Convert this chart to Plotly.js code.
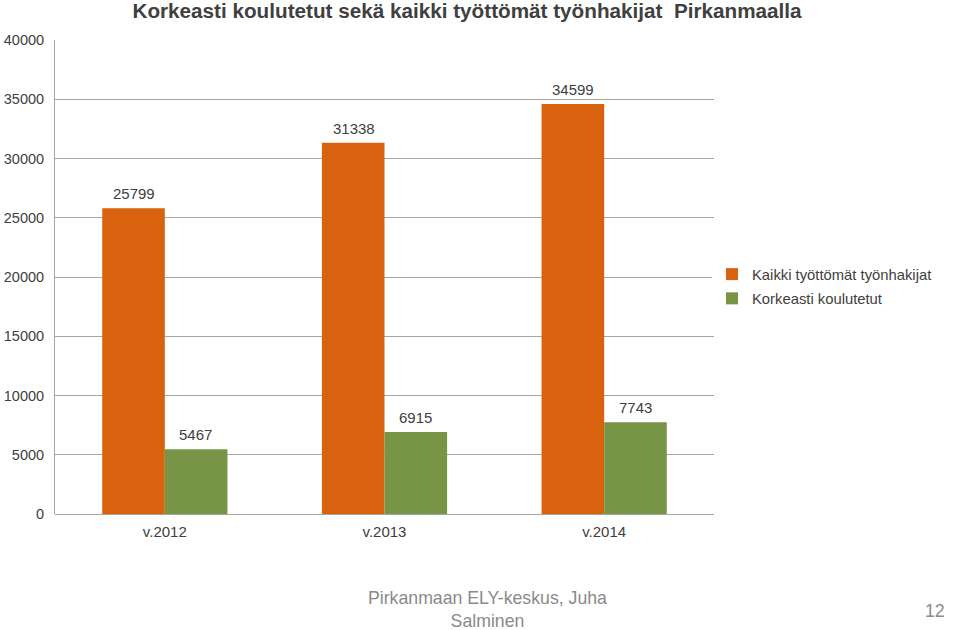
<!DOCTYPE html>
<html>
<head>
<meta charset="utf-8">
<script src="https://cdn.plot.ly/plotly-3.0.1.min.js"></script>
<style>html,body{margin:0;padding:0;background:#fff;}#chart{width:960px;height:630px;}</style>
</head>
<body>
<div id="chart"></div>
<script>
const categories = ["v.2012", "v.2013", "v.2014"];
const seriesNames = ["Kaikki työttömät työnhakijat", "Korkeasti koulutetut"];
const kaikki = [25799, 31338, 34599];
const korkeasti = [5467, 6915, 7743];
const yTicks = [0, 5000, 10000, 15000, 20000, 25000, 30000, 35000, 40000];

const font = "Liberation Sans, Arial, sans-serif";
const colors = ["#D9620E", "#789545"];

const traces = [
  {type: "bar", name: seriesNames[0], legendgroup: "a", x: categories, y: kaikki, marker: {color: colors[0]}, hoverinfo: "none"},
  {type: "bar", name: seriesNames[1], legendgroup: "b", x: categories, y: korkeasti, marker: {color: colors[1]}, hoverinfo: "none"}
];

const annotations = [];
[kaikki, korkeasti].forEach((vals, si) => {
  vals.forEach((v, i) => {
    annotations.push({
      x: categories[i], y: v, xref: "x", yref: "y",
      text: String(v), showarrow: false,
      xshift: si === 0 ? -31 : 31, yshift: 4, yanchor: "bottom",
      font: {family: font, size: 15, color: "#404040"}
    });
  });
});
annotations.push({
  xref: "paper", yref: "paper", x: (488 - 55) / 660, y: -(609 - 514) / 474, yanchor: "middle",
  text: "Pirkanmaan ELY-keskus, Juha<br>Salminen", showarrow: false, align: "center",
  font: {family: font, size: 17.7, color: "#8A8A8A"}
});
annotations.push({
  xref: "paper", yref: "paper", x: (948 - 55) / 660, y: -(611 - 514) / 474, yanchor: "middle",
  text: "12", showarrow: false,
  font: {family: font, size: 17.7, color: "#8A8A8A"}
});

const layout = {
  width: 960, height: 630,
  margin: {l: 55, r: 246, t: 40, b: 116, autoexpand: false},
  paper_bgcolor: "#fff", plot_bgcolor: "#fff",
  title: {
    text: "<b>Korkeasti koulutetut sekä kaikki työttömät työnhakijat  Pirkanmaalla</b>",
    font: {family: font, size: 20.7, color: "#404040"},
    xref: "container", x: 467 / 960, xanchor: "center",
    yref: "container", y: 1 - 11 / 630, yanchor: "middle"
  },
  barmode: "group", bargap: 0.43, bargroupgap: 0,
  xaxis: {
    showgrid: false, zeroline: false, showline: false,
    ticks: "", ticklabelstandoff: 7,
    tickfont: {family: font, size: 15, color: "#404040"}
  },
  yaxis: {
    range: [0, 40000], tickvals: yTicks, ticktext: yTicks.map(String),
    showgrid: true, gridcolor: "#A6A6A6", gridwidth: 1,
    zeroline: true, zerolinecolor: "#A6A6A6", zerolinewidth: 1,
    showline: true, linecolor: "#A6A6A6", linewidth: 1,
    ticks: "", ticklabelstandoff: 7,
    tickfont: {family: font, size: 14.5, color: "#404040"}
  },
  legend: {
    x: 712 / 960, xref: "container", y: 1 - 258 / 630, yref: "container",
    xanchor: "left", yanchor: "top",
    font: {family: font, size: 14.8, color: "#404040"},
    itemwidth: 30, tracegroupgap: 2, traceorder: "grouped"
  },
  annotations: annotations,
  showlegend: true
};

Plotly.newPlot("chart", traces, layout, {displayModeBar: false, staticPlot: true});
</script>
</body>
</html>
